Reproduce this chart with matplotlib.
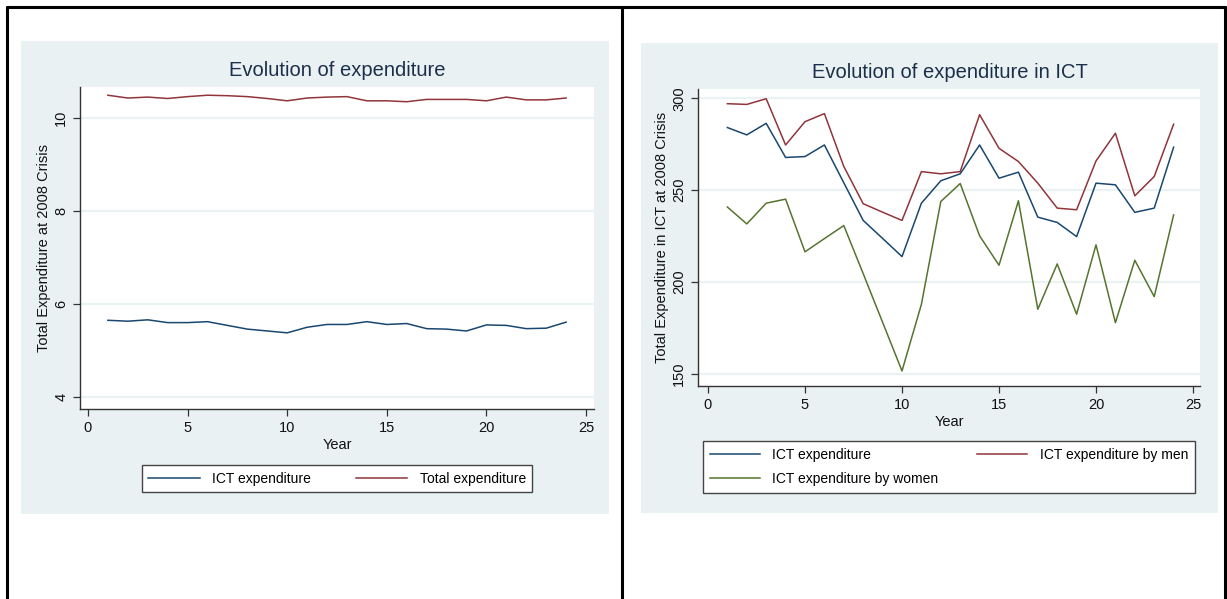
import matplotlib
matplotlib.use("Agg")
import matplotlib.pyplot as plt
from matplotlib.patches import Rectangle
from matplotlib.lines import Line2D

plt.rcParams['font.family'] = ['Liberation Sans', 'DejaVu Sans']

# ---------------- data ----------------
years = list(range(1, 25))

# Left chart
ict_exp = [5.65, 5.63, 5.66, 5.60, 5.60, 5.62, 5.54, 5.46, 5.42, 5.38, 5.50, 5.56,
           5.56, 5.62, 5.56, 5.58, 5.47, 5.46, 5.42, 5.55, 5.54, 5.47, 5.48, 5.61]
total_exp = [10.49, 10.43, 10.45, 10.42, 10.46, 10.49, 10.48, 10.46, 10.42, 10.37, 10.43, 10.45,
             10.46, 10.37, 10.37, 10.35, 10.40, 10.40, 10.40, 10.37, 10.45, 10.39, 10.39, 10.43]

# Right chart
ict_all = [284.1, 280.1, 286.4, 267.8, 268.3, 274.6, 254.0, 233.5, 223.7, 213.8, 242.9, 255.1,
           258.9, 274.6, 256.5, 259.8, 235.3, 232.4, 224.7, 253.8, 252.9, 237.9, 240.2, 273.4]
ict_men = [297.1, 296.7, 299.8, 274.6, 287.3, 291.7, 262.9, 242.6, 238.0, 233.5, 260.1, 258.9,
           260.1, 291.1, 272.8, 265.6, 253.8, 240.2, 239.3, 265.9, 281.0, 246.9, 257.4, 285.9]
ict_women = [240.8, 231.6, 242.9, 245.1, 216.4, 223.6, 230.7, 204.5, 178.0, 151.5, 187.8, 243.8,
             253.6, 225.1, 209.1, 244.2, 185.1, 209.8, 182.4, 220.2, 177.8, 211.8, 192.0, 236.5]

left_title = "Evolution of expenditure"
right_title = "Evolution of expenditure in ICT"
left_ylabel = "Total Expenditure at 2008 Crisis"
right_ylabel = "Total Expenditure in ICT at 2008 Crisis"
xlabel = "Year"
xticks = [0, 5, 10, 15, 20, 25]
left_yticks = [4, 6, 8, 10]
right_yticks = [150, 200, 250, 300]

# ---------------- style ----------------
W, H = 1227, 599
NAVY = '#1A476F'
MAROON = '#90353B'
GREEN = '#55752F'
BG = '#EAF1F3'
GRID = '#EAF2F3'
TXT = '#111111'


def fx(px):
    return px / W


def fy(py):
    return 1 - py / H


fig = plt.figure(figsize=(W / 100, H / 100), dpi=100)
fig.patch.set_facecolor('white')

# panel backgrounds
fig.patches.append(Rectangle((fx(21), fy(514)), fx(609) - fx(21), (514 - 41) / H,
                             transform=fig.transFigure, facecolor=BG, edgecolor='none', zorder=-5))
fig.patches.append(Rectangle((fx(641), fy(513)), fx(1218) - fx(641), (513 - 43) / H,
                             transform=fig.transFigure, facecolor=BG, edgecolor='none', zorder=-5))

# table borders
for (x0, y0, x1, y1) in [(6, 7, 1226, 7), (7, 6, 7, 599), (622, 7, 622, 599), (1225, 6, 1225, 599)]:
    fig.lines.append(Line2D([fx(x0), fx(x1)], [fy(y0), fy(y1)], transform=fig.transFigure,
                            color='black', linewidth=2.2, solid_capstyle='butt', zorder=10))


def style_axes(ax, yticks):
    ax.set_zorder(2)
    ax.set_facecolor('white')
    for s in ['top', 'right']:
        ax.spines[s].set_visible(False)
    for s in ['left', 'bottom']:
        ax.spines[s].set_color('#333333')
        ax.spines[s].set_linewidth(1.0)
    ax.set_xticks(xticks)
    ax.set_yticks(yticks)
    ax.tick_params(axis='both', direction='out', length=5, width=0.9, color='#333333',
                   labelsize=10.5, labelcolor=TXT)
    for lab in ax.get_yticklabels():
        lab.set_rotation(90)
        lab.set_va('center')
    ax.yaxis.grid(True, color=GRID, linewidth=1.6)
    ax.set_axisbelow(True)


# ---- left chart ----
axL = fig.add_axes([fx(80), fy(409), fx(594) - fx(80), (409 - 87) / H])
l1, = axL.plot(years, ict_exp, color=NAVY, lw=1.1, label='ICT expenditure')
l2, = axL.plot(years, total_exp, color=MAROON, lw=1.1, label='Total expenditure')
axL.set_xlim(-0.40, 25.40)
axL.set_ylim(3.742, 10.667)
style_axes(axL, left_yticks)
axL.set_xlabel(xlabel, fontsize=10.5, color=TXT, labelpad=2)
axL.set_ylabel(left_ylabel, fontsize=10.5, color=TXT, labelpad=2)
fig.text(fx(337), fy(70), left_title, ha='center', va='center', fontsize=14.5, color='#1C2F4A')
legL = fig.legend(handles=[l1, l2], loc='center', ncol=2, mode='expand',
                  bbox_to_anchor=(fx(142), fy(494), fx(532) - fx(142), (494 - 463) / H),
                  bbox_transform=fig.transFigure, fontsize=10, frameon=True, fancybox=False,
                  edgecolor='#444444', framealpha=1, handlelength=3.7, handletextpad=0.9,
                  borderpad=0.45, borderaxespad=0)
legL.set_zorder(5)

# ---- right chart ----
axR = fig.add_axes([fx(698), fy(386), fx(1200) - fx(698), (386 - 89) / H])
r1, = axR.plot(years, ict_all, color=NAVY, lw=1.1, label='ICT expenditure')
r2, = axR.plot(years, ict_men, color=MAROON, lw=1.1, label='ICT expenditure by men')
r3, = axR.plot(years, ict_women, color=GREEN, lw=1.1, label='ICT expenditure by women')
axR.set_xlim(-0.515, 25.36)
axR.set_ylim(143.3, 305.1)
style_axes(axR, right_yticks)
axR.set_xlabel(xlabel, fontsize=10.5, color=TXT, labelpad=2)
axR.set_ylabel(right_ylabel, fontsize=10.5, color=TXT, labelpad=2)
fig.text(fx(950), fy(72), right_title, ha='center', va='center', fontsize=14.5, color='#1C2F4A')
legR = fig.legend(handles=[r1, r3, r2], loc='center', ncol=2, mode='expand',
                  bbox_to_anchor=(fx(703), fy(494), fx(1195) - fx(703), (494 - 440) / H),
                  bbox_transform=fig.transFigure, fontsize=10, frameon=True, fancybox=False,
                  edgecolor='#444444', framealpha=1, handlelength=3.6, handletextpad=0.9,
                  borderpad=0.5, labelspacing=0.7, borderaxespad=0)
legR.set_zorder(5)

fig.savefig('out.png', dpi=100)
